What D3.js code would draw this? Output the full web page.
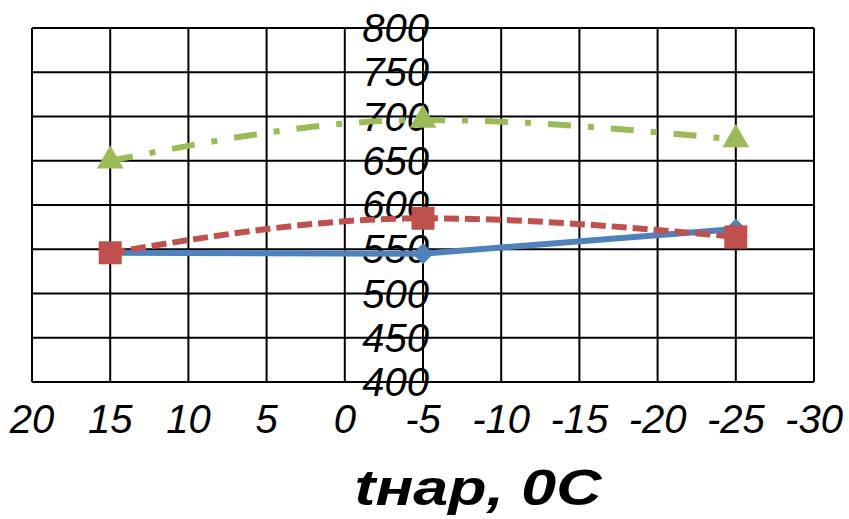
<!DOCTYPE html>
<html><head><meta charset="utf-8">
<script src="https://cdn.jsdelivr.net/npm/d3@7"></script>
<style>body{margin:0;background:#fff}svg{display:block}</style>
</head><body>
<script>
const xValues = [15, -5, -25];
const seriesBlue = [546, 545, 573];
const seriesRed = [546, 585, 564];
const seriesGreen = [650, 696, 674];
const xTicks = [20, 15, 10, 5, 0, -5, -10, -15, -20, -25, -30];
const yTicks = [400, 450, 500, 550, 600, 650, 700, 750, 800];
const xTitle = "tнар, 0C";

const W = 849, H = 519;
const svg = d3.select("body").append("svg").attr("width", W).attr("height", H);
const x = d3.scaleLinear().domain([20, -30]).range([32, 814]);
const y = d3.scaleLinear().domain([400, 800]).range([382, 28]);

// grid
const g = svg.append("g");
g.selectAll(".vx").data(xTicks).enter().append("line")
  .attr("x1", d => x(d)).attr("x2", d => x(d)).attr("y1", y(400)).attr("y2", y(800))
  .attr("stroke", "#000").attr("stroke-width", 2);
g.selectAll(".hy").data(yTicks).enter().append("line")
  .attr("x1", x(20)).attr("x2", x(-30)).attr("y1", d => y(d)).attr("y2", d => y(d))
  .attr("stroke", "#000").attr("stroke-width", 2);

const font = "'Liberation Sans', Arial, sans-serif";
// x tick labels
svg.selectAll(".xt").data(xTicks).enter().append("text")
  .attr("x", d => x(d)).attr("y", 433)
  .attr("text-anchor", "middle").attr("font-family", font).attr("font-style", "italic")
  .attr("font-size", 40).attr("fill", "#000").text(d => d);
// y tick labels
svg.selectAll(".yt").data(yTicks).enter().append("text")
  .attr("x", x(-5) + 6).attr("y", d => y(d) + 14)
  .attr("text-anchor", "end").attr("font-family", font).attr("font-style", "italic")
  .attr("font-size", 40).attr("fill", "#000").text(d => d);

function series(vals, color, dash, width, curve) {
  const pts = xValues.map((v, i) => [v, vals[i]]);
  const line = d3.line().x(d => x(d[0])).y(d => y(d[1])).curve(curve);
  svg.append("path").datum(pts).attr("d", line).attr("fill", "none")
    .attr("stroke", color).attr("stroke-width", width)
    .attr("stroke-dasharray", dash);
  return pts;
}
const C_BLUE = "#4F81BD", C_RED = "#C0504D", C_GREEN = "#9BBB59";
const pb = series(seriesBlue, C_BLUE, null, 6, d3.curveLinear);
const pr = series(seriesRed, C_RED, "15,6", 6, d3.curveMonotoneX);
const pg = series(seriesGreen, C_GREEN, "23,17,6,17", 6, d3.curveMonotoneX);

svg.selectAll(".mb").data(pb).enter().append("path")
  .attr("transform", d => `translate(${x(d[0])},${y(d[1])})`)
  .attr("d", d3.symbol().type(d3.symbolDiamond2).size(280)).attr("fill", C_BLUE);
svg.selectAll(".mr").data(pr).enter().append("rect")
  .attr("x", d => x(d[0]) - 11.5).attr("y", d => y(d[1]) - 11.5)
  .attr("width", 23).attr("height", 23).attr("fill", C_RED);
svg.selectAll(".mg").data(pg).enter().append("path")
  .attr("transform", d => `translate(${x(d[0])},${y(d[1])})`)
  .attr("d", d3.symbol().type(d3.symbolTriangle).size(310)).attr("fill", C_GREEN);

svg.append("text").attr("transform", "translate(478,505) scale(1.28,1)")
  .attr("text-anchor", "middle")
  .attr("font-family", font).attr("font-style", "italic").attr("font-weight", "bold")
  .attr("font-size", 49).attr("fill", "#000").text(xTitle);
</script>
</body></html>
